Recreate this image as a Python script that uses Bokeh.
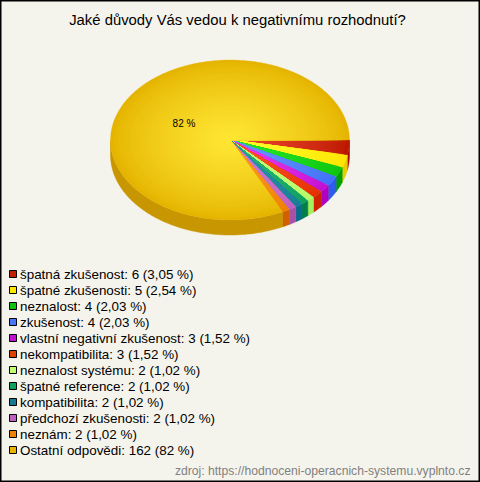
import numpy as np
from bokeh.plotting import figure
from bokeh.models import Range1d
from bokeh.core.properties import value
from bokeh.embed import file_html
from bokeh.resources import INLINE

title = "Jaké důvody Vás vedou k negativnímu rozhodnutí?"
source = "zdroj: https://hodnoceni-operacnich-systemu.vyplnto.cz"
categories = ["špatná zkušenost", "špatné zkušenosti", "neznalost", "zkušenost",
              "vlastní negativní zkušenost", "nekompatibilita", "neznalost systému",
              "špatné reference", "kompatibilita", "předchozí zkušenosti", "neznám",
              "Ostatní odpovědi"]
counts = [6, 5, 4, 4, 3, 3, 2, 2, 2, 2, 2, 162]
percents = ["3,05", "2,54", "2,03", "2,03", "1,52", "1,52", "1,02", "1,02", "1,02", "1,02", "1,02", "82"]

inner = ["#ee4a30", "#ffff30", "#28e828", "#6c98ff", "#f040f0", "#ff5828", "#c8ff80", "#30b878", "#3098a8", "#d080d0", "#ffa028", "#ffe835"]
outer = ["#bc1800", "#ffe400", "#10c410", "#4070f8", "#c010d0", "#e43000", "#b4fa68", "#0ca060", "#187c98", "#c060c0", "#ee8000", "#e4b400"]
sides = ["#a80400", "#e8cc00", "#00a000", "#2c5ce8", "#b000c0", "#cc2400", "#a4f060", "#008048", "#086c88", "#a850a8", "#d06000", "#c89600"]
swatch = ["#c02000", "#ffe800", "#10c010", "#4878f8", "#c010d0", "#e04000", "#c0ff70", "#10a060", "#187890", "#c060c0", "#f08000", "#e8b400"]
bg = "#f5f4ec"

CX, CY, RX, RY, DEPTH = 229.5, 139.5, 119.5, 80.0, 15.0
LAYERS = 30

p = figure(width=480, height=482, x_range=Range1d(0, 480), y_range=Range1d(482, 0),
           output_backend="svg", toolbar_location=None, min_border=0,
           background_fill_color=bg, border_fill_color=bg,
           outline_line_color="black", outline_line_width=2)
p.axis.visible = False
p.grid.visible = False


def hex2rgb(c):
    return np.array([int(c[i:i + 2], 16) for i in (1, 3, 5)], dtype=float)


def mix(a, b, t):
    v = hex2rgb(a) * (1 - t) + hex2rgb(b) * t
    return "#%02x%02x%02x" % tuple(int(round(x)) for x in v)


fractions = np.array(counts, dtype=float) / sum(counts)
edges = np.concatenate([[0.0], np.cumsum(fractions)]) * 2 * np.pi

# side wall (only the front half of the ellipse is visible)
for i in range(len(counts)):
    a0, a1 = edges[i], min(edges[i + 1], np.pi)
    if a0 >= np.pi:
        continue
    t = np.linspace(a0, a1, max(3, int((a1 - a0) * 60)))
    xs = CX + RX * np.cos(t)
    ys = CY + RY * np.sin(t)
    p.patch(np.concatenate([xs, xs[::-1]]), np.concatenate([ys, ys[::-1] + DEPTH]),
            fill_color=sides[i], line_color=sides[i], line_width=0.5)

# top face: radial shading built from nested scaled slices
for i in range(len(counts)):
    a0, a1 = edges[i], edges[i + 1]
    t = np.linspace(a0, a1, max(4, int((a1 - a0) * 60)))
    ux, uy = RX * np.cos(t), RY * np.sin(t)
    for k in range(LAYERS):
        s = 1 - k / LAYERS
        col = mix(outer[i], inner[i], (1 - s) ** 0.75)
        xs = np.concatenate([[CX], CX + s * ux])
        ys = np.concatenate([[CY], CY + s * uy])
        p.patch(xs, ys, fill_color=col, line_color=col, line_width=0.3)

# legend
row_y = [273.5 + 16 * i for i in range(len(categories))]
p.quad(left=[9] * 12, right=[16] * 12, top=[y - 3.5 for y in row_y], bottom=[y + 3.5 for y in row_y],
       fill_color=swatch, line_color="black", line_width=1)
labels = [f"{c}: {n} ({q} %)" for c, n, q in zip(categories, counts, percents)]
p.text(x=[19.5] * 12, y=row_y, text=labels, text_font=value("Liberation Sans"),
       text_font_size="13.4px", text_color="#000000", text_baseline="middle", text_align="left")

p.text(x=[237], y=[19], text=[title], text_font=value("Liberation Sans"), text_font_size="14.85px",
       text_color="#000000", text_baseline="middle", text_align="center")
p.text(x=[183.5], y=[122.5], text=["82 %"], text_font=value("Liberation Sans"), text_font_size="10px",
       text_color="#000000", text_baseline="middle", text_align="center")
p.text(x=[470], y=[470], text=[source], text_font=value("Liberation Sans"), text_font_size="12.15px",
       text_color="#808080", text_baseline="middle", text_align="right")

open("out.html", "w").write(file_html(p, INLINE))
